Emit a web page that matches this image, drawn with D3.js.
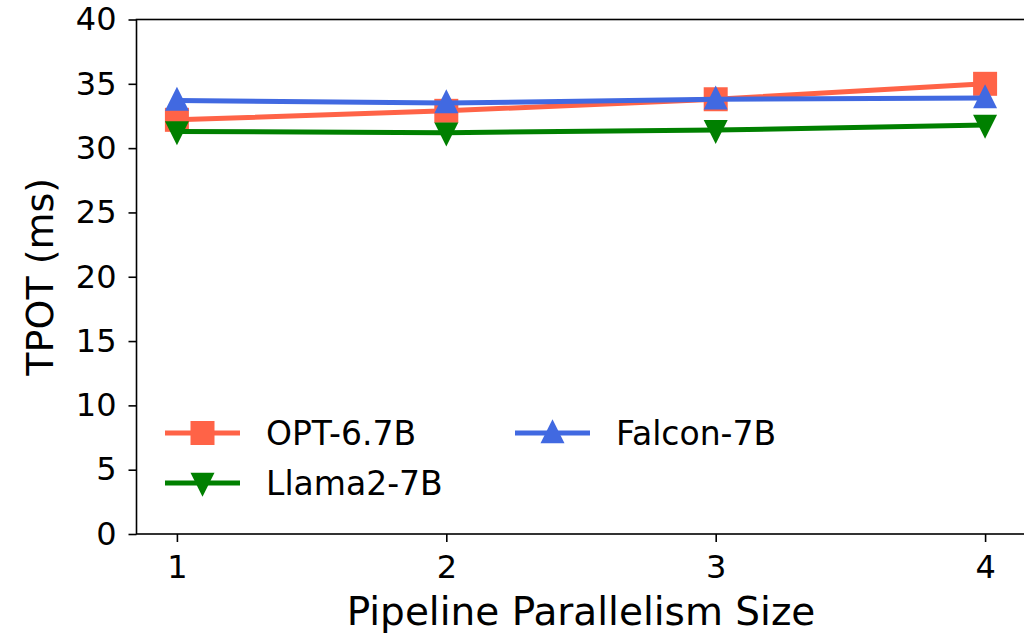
<!DOCTYPE html>
<html>
<head>
<meta charset="utf-8">
<script src="https://cdn.jsdelivr.net/npm/d3@7"></script>
<style>
  body { margin: 0; background: #fff; }
  svg { display: block; font-family: "DejaVu Sans", sans-serif; }
</style>
</head>
<body>
<svg width="1024" height="636"></svg>
<script>
// data
const sizes = [1, 2, 3, 4];
const optValues = [32.2, 32.9, 33.8, 35.0];
const llamaValues = [31.3, 31.2, 31.4, 31.8];
const falconValues = [33.7, 33.5, 33.8, 33.9];
const yTicks = [0, 5, 10, 15, 20, 25, 30, 35, 40];

const series = [
  { name: "OPT-6.7B", values: optValues, color: "#ff6347", marker: "square" },
  { name: "Llama2-7B", values: llamaValues, color: "#008000", marker: "down" },
  { name: "Falcon-7B", values: falconValues, color: "#4169e1", marker: "up" }
];

const svg = d3.select("svg");
const plotLeft = 136.5, plotRight = 1025.5, plotTop = 19.5, plotBottom = 534;

const x = d3.scaleLinear().domain([0.85, 4.15]).range([plotLeft, plotRight]);
const y = d3.scaleLinear().domain([0, 40]).range([plotBottom, plotTop]);

// frame
svg.append("rect")
  .attr("x", plotLeft).attr("y", plotTop)
  .attr("width", plotRight - plotLeft).attr("height", plotBottom - plotTop)
  .attr("fill", "none").attr("stroke", "#000").attr("stroke-width", 1.6);

const xAxis = svg.append("g")
  .attr("transform", `translate(0,${plotBottom})`)
  .call(d3.axisBottom(x).tickValues(sizes).tickFormat(d3.format("d")).tickSize(8).tickPadding(13));
const yAxis = svg.append("g")
  .attr("transform", `translate(${plotLeft},0)`)
  .call(d3.axisLeft(y).tickValues(yTicks).tickSize(8).tickPadding(12));

[xAxis, yAxis].forEach(g => {
  g.select(".domain").remove();
  g.selectAll("line").attr("stroke", "#000").attr("stroke-width", 1.6);
  g.selectAll("text").attr("fill", "#000").style("font-size", "32px")
    .style("font-family", "DejaVu Sans, sans-serif");
});

svg.append("text")
  .attr("x", (plotLeft + plotRight) / 2).attr("y", 625)
  .attr("text-anchor", "middle")
  .style("font-size", "39px")
  .text("Pipeline Parallelism Size");

svg.append("text")
  .attr("transform", `translate(53,${(plotTop + plotBottom) / 2}) rotate(-90)`)
  .attr("text-anchor", "middle")
  .style("font-size", "38px")
  .text("TPOT (ms)");

function markerPath(type) {
  const s = 12;
  if (type === "square") return `M${-s},${-s}H${s}V${s}H${-s}Z`;
  if (type === "up") return `M0,${-s * 1.15}L${s},${s * 0.85}L${-s},${s * 0.85}Z`;
  return `M0,${s * 1.15}L${s},${-s * 0.85}L${-s},${-s * 0.85}Z`;
}

const line = d3.line().x((d, i) => x(sizes[i])).y(d => y(d));

series.forEach(s => {
  const g = svg.append("g");
  g.append("path")
    .attr("d", line(s.values))
    .attr("fill", "none")
    .attr("stroke", s.color)
    .attr("stroke-width", 5);
  g.selectAll("path.marker")
    .data(s.values)
    .join("path")
    .attr("class", "marker")
    .attr("transform", (d, i) => `translate(${x(sizes[i])},${y(d)})`)
    .attr("d", markerPath(s.marker))
    .attr("fill", s.color);
});

// legend, two columns
const legendPos = [
  { s: series[0], x: 165, y: 433 },
  { s: series[1], x: 165, y: 483 },
  { s: series[2], x: 515, y: 433 }
];
legendPos.forEach(p => {
  const g = svg.append("g").attr("transform", `translate(${p.x},${p.y})`);
  g.append("line")
    .attr("x1", 0).attr("x2", 75)
    .attr("stroke", p.s.color).attr("stroke-width", 5);
  g.append("path")
    .attr("transform", "translate(37.5,0)")
    .attr("d", markerPath(p.s.marker))
    .attr("fill", p.s.color);
  g.append("text")
    .attr("x", 101).attr("y", 0)
    .attr("dy", "0.36em")
    .style("font-size", "33px")
    .text(p.s.name);
});
</script>
</body>
</html>
